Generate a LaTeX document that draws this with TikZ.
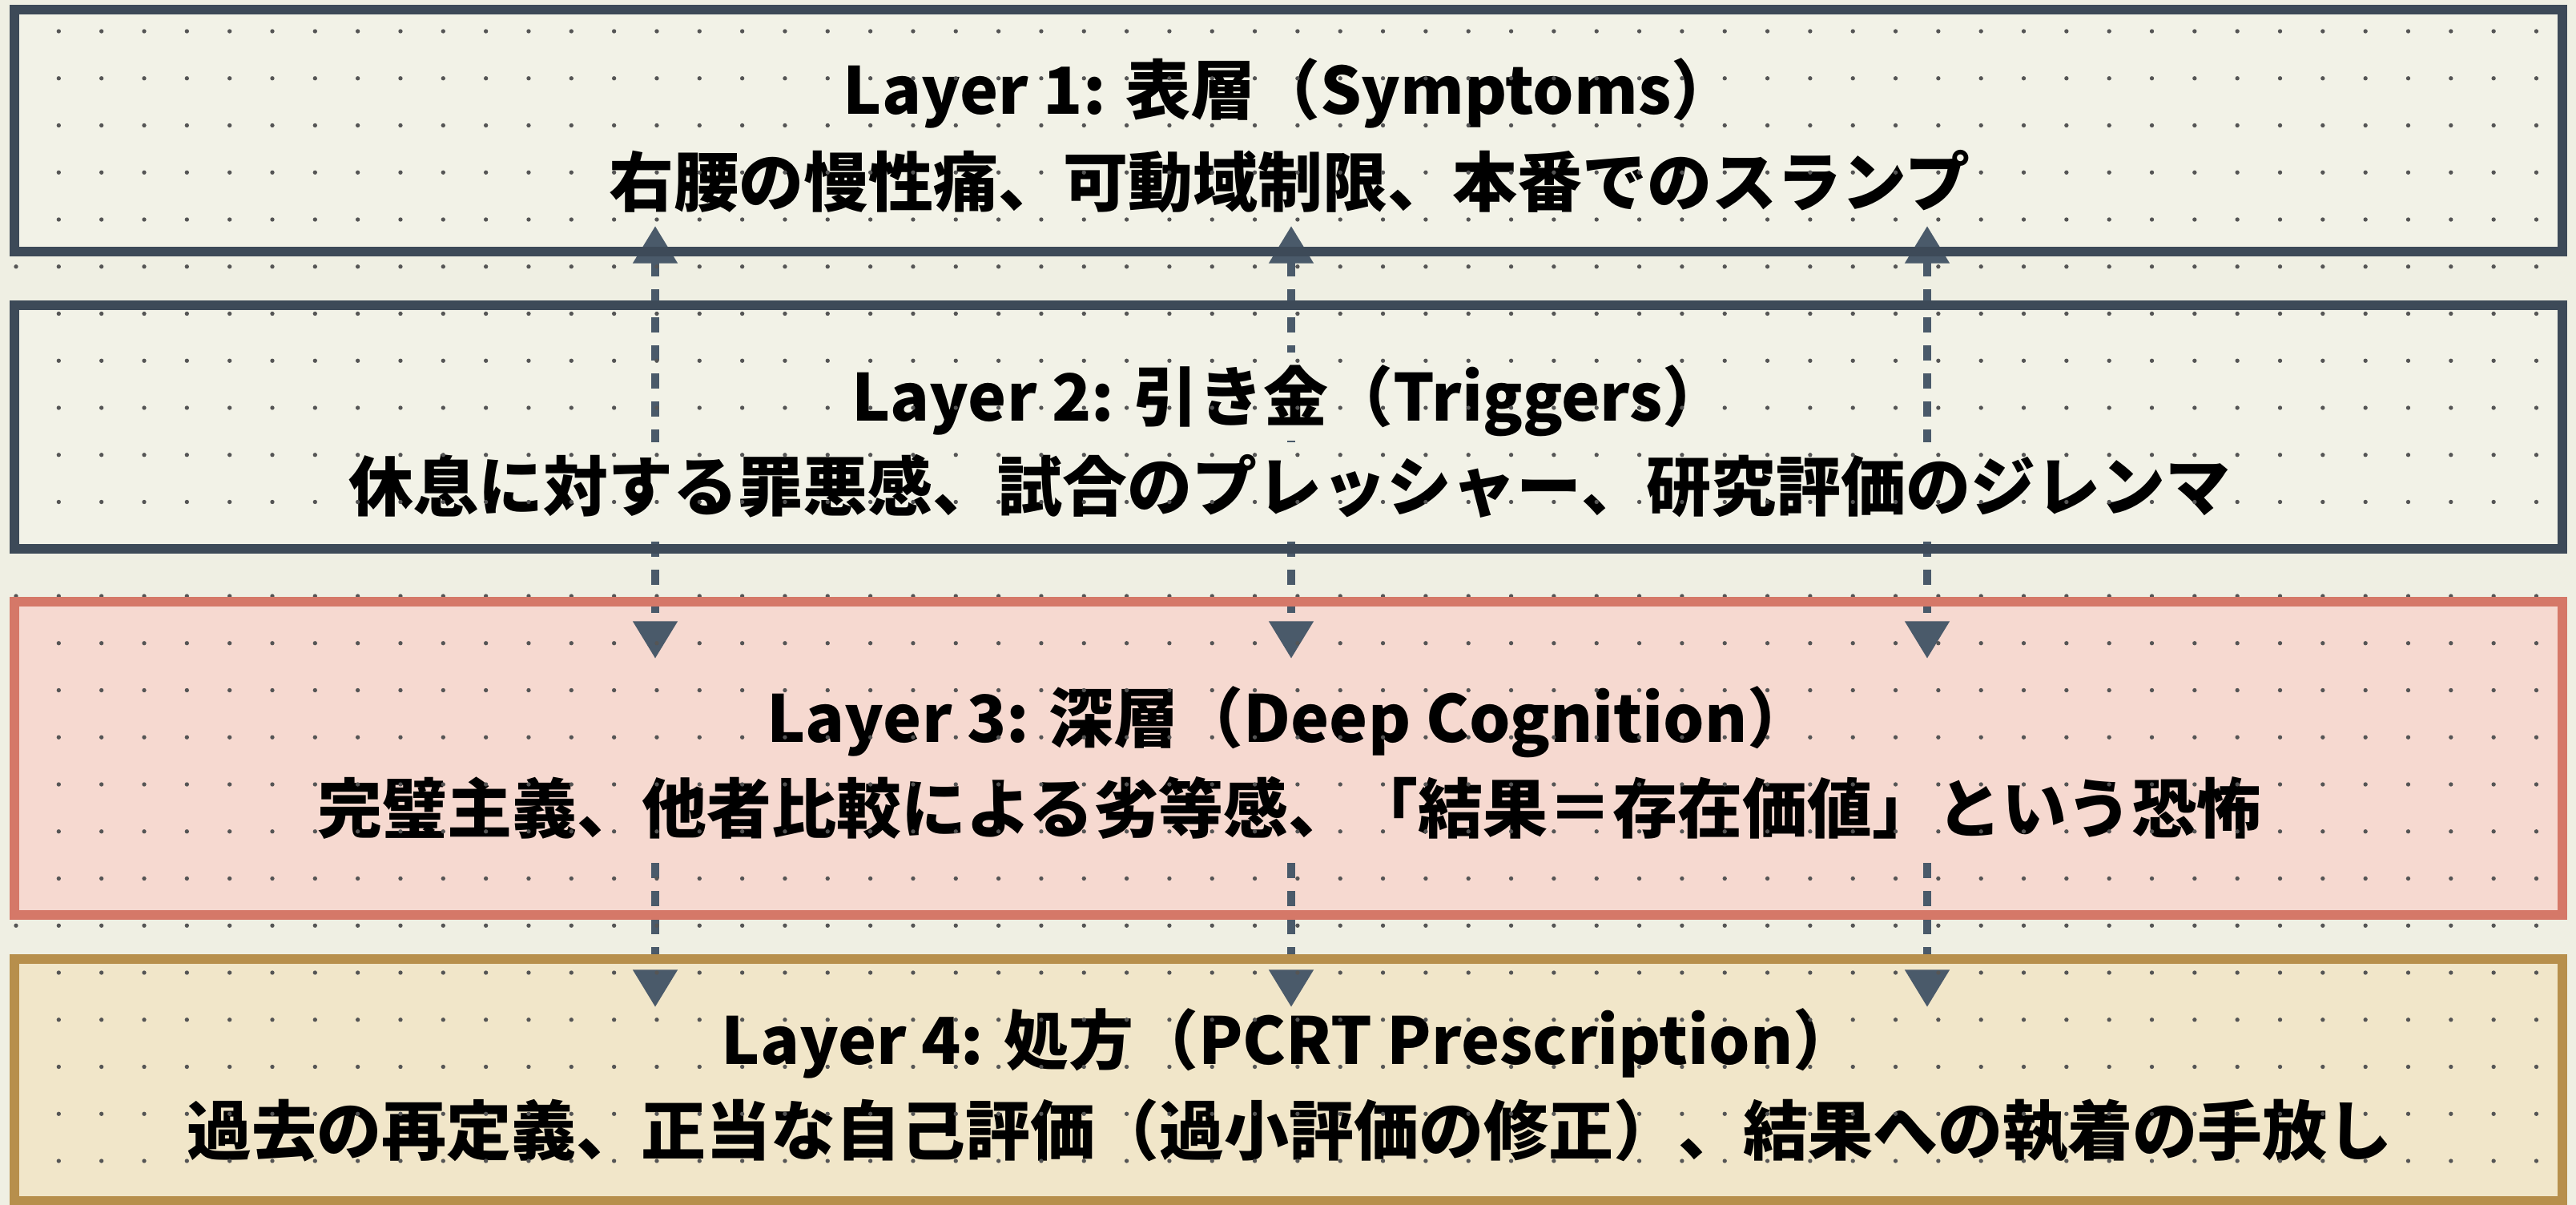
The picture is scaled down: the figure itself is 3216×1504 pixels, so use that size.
\documentclass[tikz,border=0pt]{standalone}
\usepackage{fontspec}
\usetikzlibrary{arrows.meta}
\newfontfamily\jp{Noto Sans CJK JP}
\definecolor{bgc}{HTML}{EFEFE3}
\definecolor{paleA}{HTML}{F2F2E7}
\definecolor{slate}{HTML}{3D4A58}
\definecolor{pinkF}{HTML}{F6D9D0}
\definecolor{pinkB}{HTML}{D57868}
\definecolor{sandF}{HTML}{F1E6C9}
\definecolor{sandB}{HTML}{B78F4C}
\definecolor{arrowc}{HTML}{4A5A6A}
\definecolor{dotc}{HTML}{555555}
\begin{document}
\begin{tikzpicture}[x=0.3pt,y=-0.3pt,
  layerbox/.style={draw=none,fill=#1,inner sep=0pt,minimum width=953.7pt},
  border/.style={draw=#1,line width=3.6pt},
  txt/.style={fill=#1,inner xsep=2pt,inner ysep=4.3pt,text height=21.4pt,text depth=2.9pt,
    font=\jp\bfseries\fontsize{24.3pt}{29pt}\selectfont,text=black},
  conn/.style={draw=arrowc,line width=3.1pt,dash pattern=on 5.6pt off 4.9pt,
    arrows={Triangle[length=14pt,width=16pt]-Triangle[length=14pt,width=16pt]}},
  connd/.style={draw=arrowc,line width=3.1pt,dash pattern=on 5.6pt off 4.9pt,
    arrows={-Triangle[length=14pt,width=16pt]}}]
\fill[bgc] (0,0) rectangle (3216,1504);
\useasboundingbox (0,0) rectangle (3216,1504);
% box fills
\node[layerbox=paleA,minimum height=90pt] (L1) at (1608.5,163) {};
\node[layerbox=paleA,minimum height=90.6pt] (L2) at (1608.5,533) {};
\node[layerbox=pinkF,minimum height=116.7pt] (L3) at (1608.5,946.5) {};
\node[layerbox=sandF,minimum height=90pt] (L4) at (1608.5,1348) {};
% arrow end points
\coordinate (a1) at (818,282);  \coordinate (b1) at (818,822);
\coordinate (a2) at (1612,282); \coordinate (b2) at (1612,822);
\coordinate (a3) at (2406,282); \coordinate (b3) at (2406,822);
\coordinate (c1) at (818,1077);  \coordinate (e1) at (818,1257);
\coordinate (c2) at (1612,1077); \coordinate (e2) at (1612,1257);
\coordinate (c3) at (2406,1077); \coordinate (e3) at (2406,1257);
\draw[conn] (a1) -- (b1);
\draw[conn] (a2) -- (b2);
\draw[conn] (a3) -- (b3);
% texts
\node[txt=paleA] (t1a) at (1610,112) {Layer 1: 表層（Symptoms）};
\node[txt=paleA] (t1b) at (1610,227) {右腰の慢性痛、可動域制限、本番でのスランプ};
\node[txt=paleA] (t2a) at (1610,495) {Layer 2: 引き金（Triggers）};
\node[txt=paleA] (t2b) at (1610,607) {休息に対する罪悪感、試合のプレッシャー、研究評価のジレンマ};
\node[txt=pinkF] (t3a) at (1610,896) {Layer 3: 深層（Deep Cognition）};
\node[txt=pinkF] (t3b) at (1610,1009) {完璧主義、他者比較による劣等感、「結果＝存在価値」という恐怖};
\node[txt=sandF] (t4a) at (1610,1298) {Layer 4: 処方（PCRT Prescription）};
\node[txt=sandF] (t4b) at (1610,1411) {過去の再定義、正当な自己評価（過小評価の修正）、結果への執着の手放し};
\draw[connd] (c1) -- (e1);
\draw[connd] (c2) -- (e2);
\draw[connd] (c3) -- (e3);
% dot grid
\foreach \i in {0,...,60}{
  \foreach \j in {0,...,24}{
    \fill[dotc] ({20+53.33*\i},{39+58.75*\j}) circle (0.8pt);
  }
}
% borders
\draw[border=slate] (L1.north west) rectangle (L1.south east);
\draw[border=slate] (L2.north west) rectangle (L2.south east);
\draw[border=pinkB] (L3.north west) rectangle (L3.south east);
\draw[border=sandB] (L4.north west) rectangle (L4.south east);
\end{tikzpicture}
\end{document}
